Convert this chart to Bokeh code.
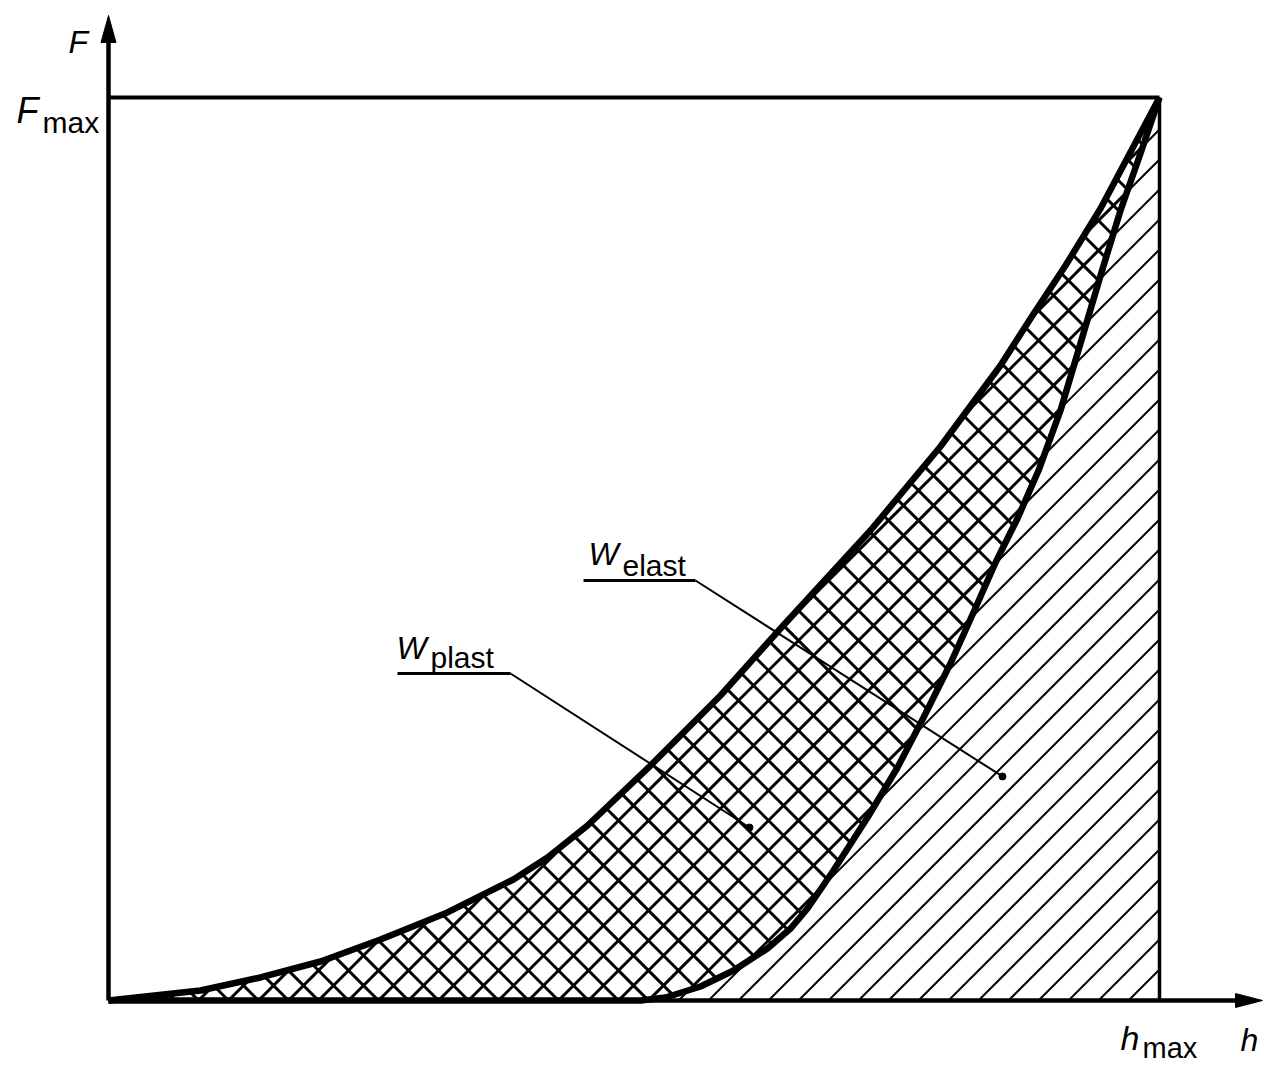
import math
from bokeh.plotting import figure
from bokeh.models import Label, Range1d
from bokeh.embed import file_html
from bokeh.resources import INLINE

# ---- data (normalised: h / h_max, F / F_max) ----
h_max = 1.0
F_max = 1.0

load_h = [0.0, 0.0875, 0.1446, 0.2017, 0.2588, 0.3225, 0.3853, 0.4177, 0.4558, 0.5157,
          0.5823, 0.6394, 0.7250, 0.7916, 0.8487, 0.8773, 0.9106, 0.9439, 1.0]
load_F = [0.0, 0.0111, 0.0255, 0.0432, 0.0676, 0.0975, 0.1340, 0.1584, 0.1938, 0.2602,
          0.3378, 0.4120, 0.5205, 0.6135, 0.7032, 0.7553, 0.8140, 0.8771, 1.0]

unload_h = [0.5062, 0.5300, 0.5633, 0.5947, 0.6270, 0.6489, 0.6651, 0.6898, 0.7222, 0.7507,
            0.7755, 0.8011, 0.8230, 0.8440, 0.8649, 0.8849, 0.9058, 0.9248, 0.9439, 0.9629,
            0.9819, 1.0]
unload_F = [0.0, 0.0033, 0.0155, 0.0332, 0.0576, 0.0797, 0.1019, 0.1440, 0.2027, 0.2580,
            0.3134, 0.3732, 0.4297, 0.4850, 0.5338, 0.5869, 0.6534, 0.7276, 0.8029, 0.8749,
            0.9380, 1.0]

# label leader anchors (data units)
plast_leader_h = [0.2750, 0.3825, 0.6099]
plast_leader_F = [0.3621, 0.3621, 0.1916]
elast_leader_h = [0.4520, 0.5585, 0.8506]
elast_leader_F = [0.4651, 0.4651, 0.2481]

# ---- page geometry ----
W, H = 1273, 1067
OX, OY = 108, 1000          # pixel position of the origin
px_x = 1051.0               # pixels per unit h
px_y = 903.0                # pixels per unit F


def px2h(x):
    return (x - OX) / px_x


def px2F(y):
    return (OY - y) / px_y


p = figure(width=W, height=H, output_backend="svg", toolbar_location=None,
           x_range=Range1d(px2h(0), px2h(W)), y_range=Range1d(px2F(H), px2F(0)),
           x_axis_location=None, y_axis_location=None,
           min_border=0, min_border_left=0, min_border_right=0,
           min_border_top=0, min_border_bottom=0)
p.outline_line_color = None
p.xgrid.visible = False
p.ygrid.visible = False
p.background_fill_color = "white"
p.border_fill_color = "white"


def hatch_lines(poly_h, poly_F, sign, spacing):
    """45-degree (on screen) hatch lines clipped to a polygon given in data units."""
    pts = [(hh * px_x, ff * px_y) for hh, ff in zip(poly_h, poly_F)]
    n = len(pts)
    vals = [X - sign * Y for X, Y in pts]
    c = math.ceil(min(vals) / spacing) * spacing
    xs0, ys0, xs1, ys1 = [], [], [], []
    while c <= max(vals):
        inter = []
        for i in range(n):
            (Xp, Yp), (Xq, Yq) = pts[i], pts[(i + 1) % n]
            fp, fq = vals[i], vals[(i + 1) % n]
            if (fp <= c < fq) or (fq <= c < fp):
                t = (c - fp) / (fq - fp)
                X = Xp + t * (Xq - Xp)
                Y = Yp + t * (Yq - Yp)
                inter.append((X + sign * Y, X, Y))
        inter.sort()
        for a, b in zip(inter[0::2], inter[1::2]):
            xs0.append(a[1] / px_x); ys0.append(a[2] / px_y)
            xs1.append(b[1] / px_x); ys1.append(b[2] / px_y)
        c += spacing
    return xs0, ys0, xs1, ys1


# elastic work region: under unloading curve, diagonal hatch
elast_h = unload_h + [h_max]
elast_F = unload_F + [0.0]
a0, b0, a1, b1 = hatch_lines(elast_h, elast_F, 1, 30)
p.segment(a0, b0, a1, b1, line_color="black", line_width=2)

# plastic work region: between loading and unloading, cross hatch
plast_h = load_h + unload_h[::-1]
plast_F = load_F + unload_F[::-1]
for sgn in (1, -1):
    a0, b0, a1, b1 = hatch_lines(plast_h, plast_F, sgn, 30)
    p.segment(a0, b0, a1, b1, line_color="black", line_width=3)

# frame lines at F_max, h_max
p.line([0, h_max], [F_max, F_max], line_color="black", line_width=4)
p.line([h_max, h_max], [0, F_max], line_color="black", line_width=3.5)

# axes with arrows
h_tip = px2h(1262)
F_tip = px2F(15)
p.line([0, h_tip - 20 / px_x], [0, 0], line_color="black", line_width=4.5)
p.line([0, 0], [0, F_tip - 20 / px_y], line_color="black", line_width=4.5)
p.patch([h_tip, h_tip - 27 / px_x, h_tip - 27 / px_x],
        [0, 7 / px_y, -7 / px_y], color="black", line_width=1)
p.patch([0, -7.5 / px_x, 7.5 / px_x],
        [F_tip, F_tip - 27 / px_y, F_tip - 27 / px_y], color="black", line_width=1)

# curves
p.line(load_h, load_F, line_color="black", line_width=6.5, line_join="round")
p.line([0.0] + unload_h, [0.0] + unload_F, line_color="black", line_width=6.5,
       line_join="round")

# leaders
for lh, lF in ((plast_leader_h, plast_leader_F), (elast_leader_h, elast_leader_F)):
    p.line(lh[:2], lF[:2], line_color="black", line_width=3)
    p.line(lh[1:], lF[1:], line_color="black", line_width=2)
    p.scatter([lh[2]], [lF[2]], size=7, color="black")

FONT = "Liberation Sans"


def lab(x, y, text, size, italic=False):
    p.add_layout(Label(x=px2h(x), y=px2F(y), text=text, text_font=FONT,
                       text_font_size=f"{size}px",
                       text_font_style="italic" if italic else "normal",
                       text_color="black", text_baseline="alphabetic",
                       text_align="left"))


lab(68, 41, "F", 32, True)
lab(16, 110, "F", 36, True)
lab(42, 122, "max", 30)
lab(1120, 1037, "h", 34, True)
lab(1142, 1047, "max", 29)
lab(1240, 1039, "h", 32, True)
lab(588, 553, "W", 32, True)
lab(622, 565, "elast", 30)
lab(396, 647, "W", 32, True)
lab(430, 657, "plast", 30)

open("out.html", "w").write(file_html(p, INLINE))
